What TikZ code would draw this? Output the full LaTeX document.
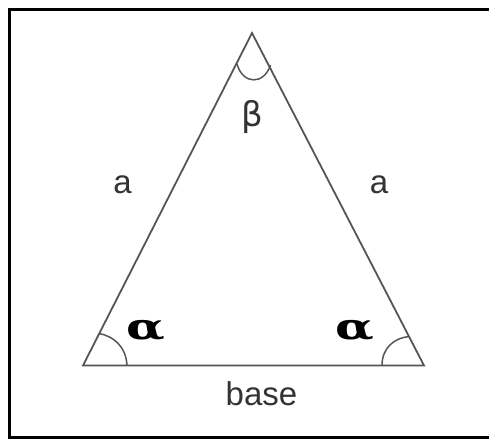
\documentclass[tikz,border=0pt]{standalone}
\usepackage{fontspec}
\setmainfont{Liberation Sans}
\newfontfamily\greekfont{DejaVu Sans}
\newfontfamily\alphafont{DejaVu Serif}
\definecolor{linegray}{HTML}{555555}
\definecolor{textgray}{HTML}{333333}
\begin{document}
\begin{tikzpicture}[x=1pt,y=-1pt,
  side/.style={draw=linegray,line width=1.8pt,line join=miter},
  arcline/.style={draw=linegray,line width=1.5pt},
  lbl/.style={text=textgray,inner sep=0pt,font=\fontsize{33}{36}\selectfont},
  alphalbl/.style={text=black,inner sep=0pt,font=\alphafont\bfseries\fontsize{36}{40}\selectfont}]
\useasboundingbox (0,0) rectangle (489,440);
\begin{scope}
\clip (0,0) rectangle (489,440);
\draw[line width=3pt,black] (9.5,9) rectangle (500,437.5);
\end{scope}
\coordinate (A) at (252,33);
\coordinate (B) at (83,365.5);
\coordinate (C) at (424,365.5);
\draw[side] (A) -- (B) -- (C) -- cycle;
% angle marks
\draw[arcline] (237,64) .. controls (243,85) and (264,85) .. (270.5,65);
\draw[arcline] (127,365.5) .. controls (126,346) and (113,336) .. (99,333.5);
\draw[arcline] (382,365.5) .. controls (382,348) and (394,338) .. (409,336.5);
% labels
\node[lbl,anchor=base] (la) at (122.5,193) {a};
\node[lbl,anchor=base] (ra) at (379,193) {a};
\node[lbl,anchor=base] (baselbl) at (261.5,405) {base};
\node[text=textgray,inner sep=0pt,font=\greekfont\fontsize{34}{36}\selectfont] (beta) at (252.5,117.5) {β};
\node[alphalbl,anchor=base] (al) at (145.5,339.5) {\scalebox{1.4}[1]{α}};
\node[alphalbl,anchor=base] (ar) at (355,339.5) {\scalebox{1.4}[1]{α}};
\end{tikzpicture}
\end{document}
